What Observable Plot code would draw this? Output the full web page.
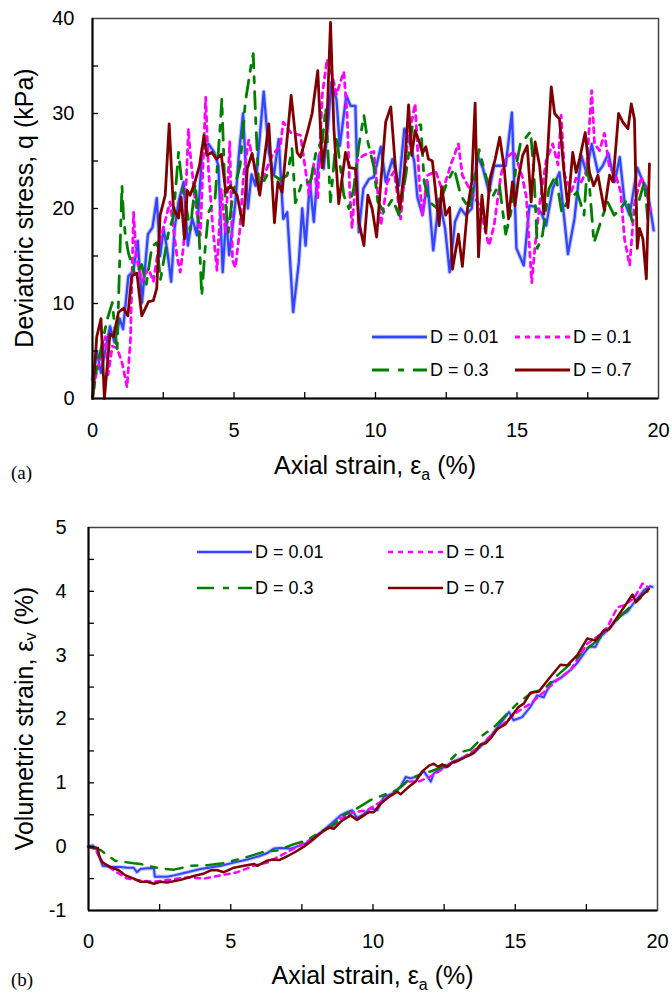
<!DOCTYPE html>
<html><head><meta charset="utf-8">
<script src="https://cdn.jsdelivr.net/npm/d3@7"></script>
<script src="https://cdn.jsdelivr.net/npm/@observablehq/plot@0.6"></script>
<style>
body{margin:0;background:#fff;}
#chart{width:672px;}
svg{display:block;}
</style></head><body><div id="chart"></div>
<script>
// ---------- series meta ----------
const seriesNames = ["D = 0.01", "D = 0.1", "D = 0.3", "D = 0.7"];
const seriesColors = ["#3344ff", "#ff00ff", "#008000", "#800000"];
const seriesDash = [null, "5,5", "17,9,6,9", null];

// ---------- axis ticks ----------
const xMajorTicks = [0, 5, 10, 15, 20];
const xMinorTicks = [2.5, 5, 7.5, 10, 12.5, 15, 17.5];
const qMajorTicks = [0, 10, 20, 30, 40];
const qMinorTicks = [5, 10, 15, 20, 25, 30, 35];
const vMajorTicks = [-1, 0, 1, 2, 3, 4, 5];
const vMinorTicks = [-0.5, 0, 0.5, 1, 1.5, 2, 2.5, 3, 3.5, 4, 4.5];

// ---------- panel (a): deviatoric stress q (kPa) vs axial strain (%) ----------
const qD001 = [[0,2],[0.15,5],[0.3,2.7],[0.45,5],[0.62,7.6],[0.78,5.9],[0.96,8.4],[1.08,7.3],[1.27,12.9],[1.44,13.4],[1.6,16.6],[1.75,10.1],[1.96,17.3],[2.12,18],[2.27,21.1],[2.39,15],[2.51,17.9],[2.63,15.8],[2.78,12.3],[2.9,17.9],[3.04,20.7],[3.22,22.8],[3.37,16.1],[3.52,19],[3.69,17.2],[3.88,26.3],[4.1,26.8],[4.3,25.9],[4.45,24.5],[4.6,13.3],[4.72,19],[4.83,15.1],[4.97,18.6],[5.05,20.7],[5.17,25.6],[5.32,30],[5.49,20],[5.62,23.6],[5.76,22.4],[6.05,32.3],[6.23,25.9],[6.41,23.5],[6.58,27.3],[6.74,18.9],[6.88,19.6],[7.09,9.1],[7.29,14.3],[7.41,20],[7.53,16.1],[7.68,22.8],[7.82,18.6],[8,25.6],[8.17,24.2],[8.32,28.7],[8.44,33.3],[8.62,31.5],[8.74,26.6],[8.97,31.9],[9.12,30.8],[9.29,30.8],[9.41,17.5],[9.57,22.1],[9.77,23.1],[9.94,23.3],[10.19,26.5],[10.36,22.8],[10.6,25.2],[10.83,22.4],[11.02,28.4],[11.19,27.4],[11.37,24.9],[11.48,21.2],[11.66,19.3],[11.84,22.8],[12.04,15.6],[12.25,21],[12.46,17.9],[12.62,13.3],[12.81,18.6],[13.01,20],[13.19,19.3],[13.4,20],[13.6,25.6],[13.8,24.2],[14.01,21.7],[14.19,24.5],[14.43,24.5],[14.6,24.5],[14.82,30.1],[14.98,15.8],[15.24,14],[15.44,20.3],[15.62,20.2],[15.85,19.6],[16.03,18.2],[16.26,22.1],[16.5,23.8],[16.8,15.2],[17.03,18.9],[17.27,25.6],[17.45,23.8],[17.64,26.8],[17.86,23.8],[18.03,24.5],[18.23,25.8],[18.45,22.8],[18.63,25.4],[18.8,20.7],[18.98,19.3],[19.25,24.3],[19.45,22.8],[19.6,22.1],[19.83,17.7]];
const qD01 = [[0,0],[0.1,2.2],[0.3,4.5],[0.46,6.5],[0.55,2.5],[0.7,5.5],[0.87,5.3],[1.05,3.7],[1.22,1.2],[1.34,6.1],[1.45,19.6],[1.55,15],[1.74,12.3],[1.98,13.7],[2.15,12.3],[2.33,15.8],[2.5,17.9],[2.74,20.7],[2.98,15.1],[3.1,13.3],[3.22,16.1],[3.39,28.4],[3.45,25.9],[3.63,20.7],[3.81,17.2],[4.0,31.7],[4.1,24],[4.25,18],[4.4,13.5],[4.55,22],[4.7,17.4],[4.85,27],[4.95,14.5],[5.05,13.8],[5.2,17.6],[5.34,23.6],[5.52,27.2],[5.82,23],[6.05,23.4],[6.35,25.6],[6.64,26.6],[6.74,29.1],[7.0,28],[7.35,27.7],[7.65,21.5],[7.82,24.7],[7.96,21.1],[8.12,32],[8.29,35.7],[8.47,34],[8.62,32],[8.88,34.4],[9.0,29.8],[9.09,21.8],[9.17,17.9],[9.35,25],[9.57,25.6],[9.94,26],[10.19,18.2],[10.42,22.8],[10.66,23.9],[10.89,18.9],[11.13,26.9],[11.4,31],[11.55,22.8],[11.66,19.3],[11.84,23.5],[12.13,23.9],[12.37,21.8],[12.66,24.6],[12.93,26.8],[13.07,23.5],[13.37,21.8],[13.66,20.4],[14.01,16.1],[14.19,18.2],[14.43,23.5],[14.6,25.3],[14.9,26],[15.19,23.3],[15.33,21.2],[15.52,12.2],[15.64,16.1],[15.8,20.5],[16.03,25],[16.26,26.8],[16.45,24.6],[16.56,29.8],[16.68,23.5],[16.92,21.8],[17.09,23.2],[17.27,22.8],[17.45,23.9],[17.64,32.4],[17.74,26.8],[17.92,26.1],[18.09,27.9],[18.27,24.2],[18.45,23.9],[18.66,21.8],[18.8,16.8],[18.98,14],[19.15,20.5],[19.39,23.3],[19.55,21.9],[19.72,19.8]];
const qD03 = [[0,0],[0.15,3.2],[0.33,5.6],[0.5,8.1],[0.7,10.1],[0.87,5],[0.93,11.4],[1.04,22.4],[1.1,19],[1.16,17.2],[1.27,15.3],[1.5,13],[1.74,14.1],[1.9,12],[2.1,16],[2.27,16.4],[2.4,12.5],[2.5,14.2],[2.68,17.4],[2.86,19.2],[3.04,25.9],[3.16,22.6],[3.27,20.9],[3.45,17.7],[3.63,22.6],[3.75,18.4],[3.86,10.8],[3.98,15.8],[4.1,19.6],[4.33,21],[4.51,28.6],[4.57,31.5],[4.69,20.8],[4.8,17.5],[4.95,21.4],[5.22,24.6],[5.4,31.2],[5.6,35],[5.68,36.3],[5.76,29.8],[5.88,22],[6.17,23.5],[6.41,23.5],[6.64,23],[6.88,23.5],[7.05,26.3],[7.17,20.6],[7.41,22.8],[7.7,22.8],[7.92,26.3],[8.12,27],[8.24,30.6],[8.41,20.7],[8.62,27.7],[8.88,21.4],[9.06,20],[9.23,22.1],[9.41,26.6],[9.59,29.8],[9.73,27],[9.94,24.4],[10.08,20.7],[10.31,19.6],[10.6,21],[10.83,19.3],[11.07,23.5],[11.31,28.8],[11.6,28.8],[11.72,22.8],[11.9,20.7],[12.19,20],[12.54,22.8],[12.78,24.2],[13.01,21.4],[13.31,20],[13.66,26.2],[13.9,23.4],[14.13,21.2],[14.37,22.6],[14.6,17.3],[14.78,19.5],[14.97,24.5],[15.13,27],[15.3,27.4],[15.48,28.1],[15.6,23.6],[15.72,15.8],[15.9,17.2],[16.13,22.1],[16.37,23.5],[16.58,19.6],[16.84,21],[17.13,21.7],[17.37,19.3],[17.49,24.9],[17.72,16.4],[17.96,18.6],[18.2,20.7],[18.43,19.3],[18.66,20],[18.9,21],[19.07,18.6],[19.3,20.7],[19.5,22.8],[19.62,18.9]];
const qD07 = [[0,0],[0.15,6.5],[0.3,8.4],[0.42,0],[0.62,6.8],[0.74,6.5],[0.92,9.1],[1.1,9.5],[1.25,8.7],[1.39,12.9],[1.57,13.2],[1.74,8.7],[1.98,10.2],[2.15,10.3],[2.27,11.6],[2.39,19.3],[2.57,21.4],[2.71,28.9],[2.86,20],[3.04,19],[3.13,21.2],[3.25,16.8],[3.35,21.9],[3.45,21.4],[3.6,22.6],[3.78,24.5],[3.94,27.7],[4.04,25.6],[4.21,25.9],[4.39,25.2],[4.55,25.7],[4.71,21.7],[4.87,22.4],[5.11,21.4],[5.32,18.2],[5.47,24.2],[5.64,25.8],[5.91,21.4],[6.23,28.9],[6.43,18.5],[6.55,22.8],[6.7,21.7],[7.02,31.9],[7.23,25.9],[7.35,25.4],[7.59,28],[7.76,30],[7.96,34.5],[8.12,24.3],[8.27,27.9],[8.41,39.6],[8.53,28.4],[8.7,20.5],[8.94,25.9],[9.09,24.3],[9.29,24.2],[9.41,18.6],[9.59,16.1],[9.73,21.4],[9.88,20],[10.04,17],[10.19,22.8],[10.36,29.1],[10.54,30.7],[10.7,24.5],[10.86,20],[11.02,24],[11.17,30.9],[11.28,25.6],[11.4,28.2],[11.55,27],[11.66,25.8],[11.78,26.5],[11.87,25.2],[12.01,25],[12.25,18.2],[12.34,22.3],[12.48,19.3],[12.62,20.1],[12.72,13.6],[12.93,17.3],[13.07,13.9],[13.25,20],[13.4,22.8],[13.52,31.1],[13.64,14.9],[13.76,21.4],[13.9,17.5],[14.04,23.1],[14.23,25.2],[14.39,27.5],[14.55,24.2],[14.7,18.9],[14.84,22.8],[14.93,20.3],[15.05,23.1],[15.2,25.6],[15.36,26.6],[15.5,20.7],[15.64,27],[15.8,24.5],[15.95,19.4],[16.09,26.3],[16.21,32.8],[16.33,30],[16.5,29.4],[16.65,24.2],[16.8,20.1],[16.97,25.9],[17.09,23.8],[17.21,25.2],[17.41,28],[17.56,23.8],[17.71,22.4],[17.86,23.5],[18.09,19.8],[18.27,23.5],[18.39,22.8],[18.59,30],[18.74,29.1],[18.92,28.4],[19.04,31],[19.15,29.4],[19.25,15.8],[19.33,17.9],[19.45,16.8],[19.57,12.6],[19.68,24.7]];

// ---------- panel (b): volumetric strain (%) vs axial strain (%) ----------
const vD001 = [[0,0],[0.15,0.02],[0.3,-0.05],[0.5,-0.3],[0.77,-0.32],[1.13,-0.32],[1.36,-0.33],[1.59,-0.33],[1.7,-0.4],[1.83,-0.35],[2.06,-0.34],[2.3,-0.34],[2.33,-0.47],[2.77,-0.47],[3.0,-0.45],[3.47,-0.4],[3.94,-0.35],[4.4,-0.32],[4.65,-0.3],[5.11,-0.25],[5.58,-0.2],[5.99,-0.15],[6.28,-0.1],[6.52,-0.03],[6.75,-0.02],[7.1,-0.03],[7.45,0.02],[7.81,0.08],[8.16,0.22],[8.51,0.35],[8.86,0.49],[9.09,0.54],[9.27,0.57],[9.44,0.45],[9.68,0.51],[9.91,0.6],[10.15,0.57],[10.38,0.78],[10.68,0.83],[10.97,0.94],[11.15,1.09],[11.32,1.07],[11.56,1.1],[11.79,1.18],[12.03,1.02],[12.14,1.15],[12.32,1.2],[12.55,1.26],[12.85,1.34],[13.14,1.39],[13.43,1.44],[13.67,1.52],[13.9,1.62],[14.14,1.72],[14.25,1.8],[14.48,1.93],[14.78,2.11],[14.94,1.98],[15.24,2.03],[15.53,2.19],[15.77,2.37],[16.0,2.34],[16.24,2.56],[16.59,2.64],[16.95,2.77],[17.18,2.88],[17.42,3.03],[17.59,3.13],[17.82,3.13],[18.0,3.29],[18.35,3.44],[18.65,3.6],[18.94,3.68],[19.12,3.79],[19.29,3.89],[19.53,4.02],[19.74,4.08],[19.82,4.07]];
const vD01 = [[0,0],[0.25,-0.05],[0.5,-0.25],[0.99,-0.4],[1.36,-0.5],[1.83,-0.53],[2.3,-0.55],[3.0,-0.51],[3.47,-0.48],[4.06,-0.5],[4.65,-0.45],[5.23,-0.4],[5.81,-0.3],[6.28,-0.25],[6.75,-0.14],[7.22,-0.03],[7.69,0.08],[8.16,0.22],[8.63,0.34],[8.86,0.44],[9.32,0.54],[9.8,0.57],[10.26,0.7],[10.73,0.83],[11.2,1.02],[11.61,1.02],[12.03,1.1],[12.5,1.23],[12.97,1.34],[13.43,1.47],[13.9,1.63],[14.13,1.74],[14.6,1.93],[15.07,2.11],[15.53,2.24],[16.0,2.42],[16.47,2.61],[16.95,2.77],[17.53,3.18],[17.89,3.29],[18.24,3.44],[18.59,3.75],[18.82,3.78],[19.17,3.89],[19.47,4.12],[19.65,4.07]];
const vD03 = [[0,0],[0.41,-0.05],[0.94,-0.22],[1.59,-0.26],[1.83,-0.27],[2.06,-0.3],[2.53,-0.34],[3.0,-0.36],[3.59,-0.3],[4.18,-0.29],[4.71,-0.26],[5.35,-0.19],[6.17,-0.08],[6.64,-0.06],[7.22,0.04],[7.69,0.1],[8.16,0.24],[8.5,0.3],[8.97,0.49],[9.44,0.6],[9.91,0.73],[10.38,0.81],[10.85,0.89],[11.32,1.07],[11.79,1.15],[12.03,1.18],[12.5,1.26],[12.97,1.47],[13.43,1.52],[13.67,1.63],[13.84,1.74],[14.25,1.87],[14.6,2.03],[15.07,2.24],[15.6,2.42],[16.0,2.46],[16.47,2.68],[17.06,2.91],[17.42,3.07],[17.89,3.23],[18.24,3.39],[18.71,3.62],[19.12,3.79],[19.47,3.92],[19.65,4.0]];
const vD07 = [[0,0],[0.33,-0.02],[0.36,-0.13],[0.47,-0.24],[0.77,-0.32],[1.06,-0.37],[1.3,-0.45],[1.59,-0.5],[1.83,-0.55],[2.06,-0.55],[2.3,-0.58],[2.53,-0.55],[2.77,-0.56],[3.24,-0.52],[3.7,-0.46],[4.06,-0.42],[4.3,-0.37],[4.53,-0.37],[4.76,-0.4],[5.11,-0.33],[5.46,-0.3],[5.81,-0.27],[5.93,-0.3],[6.28,-0.22],[6.46,-0.2],[6.7,-0.21],[6.99,-0.15],[7.28,-0.08],[7.57,0],[7.86,0.1],[8.15,0.21],[8.45,0.3],[8.62,0.28],[8.86,0.39],[9.03,0.44],[9.21,0.49],[9.44,0.42],[9.68,0.49],[9.85,0.54],[10.03,0.54],[10.26,0.67],[10.56,0.78],[10.85,0.86],[10.97,0.82],[11.26,0.94],[11.5,1.02],[11.73,1.18],[11.97,1.27],[12.14,1.3],[12.28,1.25],[12.44,1.29],[12.61,1.25],[12.79,1.32],[13.02,1.35],[13.31,1.42],[13.55,1.47],[13.78,1.6],[13.96,1.62],[14.14,1.7],[14.36,1.84],[14.66,1.92],[14.89,2.06],[15.12,2.19],[15.3,2.24],[15.53,2.41],[15.83,2.43],[16.18,2.63],[16.59,2.85],[16.83,2.84],[17.18,3.0],[17.53,3.26],[17.82,3.23],[18.12,3.39],[18.29,3.4],[18.59,3.6],[18.82,3.75],[19.12,3.95],[19.24,3.83],[19.47,3.94],[19.7,4.04]];

const FONT = "'Liberation Sans', Arial, sans-serif";

function seriesMarks(list, w) {
  const marks = [];
  list.forEach((data, i) => {
    if (i === 0) {
      marks.push(Plot.line(data, {x: d => d[0], y: d => d[1], stroke: "#aab2ff", strokeWidth: w + 1.6, strokeOpacity: 0.7}));
    }
    marks.push(Plot.line(data, {
      x: d => d[0], y: d => d[1],
      stroke: seriesColors[i],
      strokeWidth: i === 0 ? w - 0.5 : w,
      strokeDasharray: seriesDash[i] || undefined,
      strokeLinejoin: "round"
    }));
  });
  return marks;
}

function makePanel(cfg) {
  const plotW = cfg.width - cfg.marginLeft - cfg.marginRight;
  const plotH = cfg.height - cfg.marginTop - cfg.marginBottom;
  const svg = Plot.plot({
    width: cfg.width, height: cfg.height,
    marginLeft: cfg.marginLeft, marginRight: cfg.marginRight,
    marginTop: cfg.marginTop, marginBottom: cfg.marginBottom,
    style: {fontFamily: FONT, fontSize: "20px", color: "#000", background: "#fff", overflow: "visible"},
    x: {domain: [0, 20]},
    y: {domain: cfg.yDomain},
    marks: [
      ...seriesMarks(cfg.series, cfg.lineWidth),
      Plot.frame({stroke: "#444", strokeWidth: 1.5}),
      Plot.ruleX([0], {stroke: "#000", strokeWidth: 2}),
      Plot.ruleY([cfg.yDomain[0]], {stroke: "#000", strokeWidth: 2}),
      Plot.tickX(xMinorTicks, {x: d => d, stroke: "#000", strokeWidth: 1.3, insetTop: plotH - 6}),
      Plot.tickY(cfg.yMinor, {y: d => d, stroke: "#000", strokeWidth: 1.3, insetRight: plotW - 6}),
      Plot.axisX({ticks: xMajorTicks, tickSize: 0, tickPadding: cfg.xPad, label: null, fontSize: 20, tickFormat: d => String(d)}),
      Plot.axisY({ticks: cfg.yMajor, tickSize: 0, tickPadding: cfg.yPad, label: null, fontSize: 20, tickFormat: d => String(d)})
    ]
  });
  const s = d3.select(svg);
  // x axis title
  const xt = s.append("text").attr("x", cfg.marginLeft + plotW / 2).attr("y", cfg.xTitleY)
    .attr("text-anchor", "middle").style("font-family", FONT).style("font-size", "25px").attr("fill", "#000");
  xt.append("tspan").text("Axial strain, ε");
  xt.append("tspan").text("a").style("font-size", "16px").attr("dy", 6);
  xt.append("tspan").text(" (%)").attr("dy", -6);
  // y axis title
  const yt = s.append("text").attr("transform", `translate(${cfg.yTitleX},${cfg.marginTop + plotH / 2}) rotate(-90)`)
    .attr("text-anchor", "middle").style("font-family", FONT).style("font-size", "25px").attr("fill", "#000");
  cfg.yTitle.forEach(p => {
    const t = yt.append("tspan").text(p.t);
    if (p.sub) t.style("font-size", "16px").attr("dy", 3);
    if (p.back) t.attr("dy", -3);
  });
  // panel letter
  s.append("text").attr("x", 11).attr("y", cfg.letterY).attr("text-anchor", "start")
    .style("font-family", "'Liberation Serif', 'Times New Roman', serif")
    .style("font-size", "19px").attr("fill", "#000").text(cfg.letter);
  // legend
  const L = cfg.legend;
  seriesNames.forEach((name, i) => {
    const col = i % 2, row = Math.floor(i / 2);
    const x1 = L.cols[col], x2 = x1 + L.len, y = L.rows[row];
    if (i === 0) {
      s.append("line").attr("x1", x1).attr("x2", x2).attr("y1", y).attr("y2", y)
        .attr("stroke", "#aab2ff").attr("stroke-width", cfg.lineWidth + 1.6).attr("stroke-opacity", 0.7);
    }
    s.append("line").attr("x1", x1).attr("x2", x2).attr("y1", y).attr("y2", y)
      .attr("stroke", seriesColors[i]).attr("stroke-width", i === 0 ? cfg.lineWidth - 0.5 : cfg.lineWidth)
      .attr("stroke-dasharray", seriesDash[i]);
    s.append("text").attr("x", x2 + 3).attr("y", y).attr("dy", "0.36em").attr("text-anchor", "start")
      .style("font-family", FONT).style("font-size", "18px").attr("fill", "#000").text(name);
  });
  return svg;
}

const chart = document.getElementById("chart");
chart.appendChild(makePanel({
  width: 672, height: 490, marginLeft: 92, marginRight: 14, marginTop: 18, marginBottom: 92,
  yDomain: [0, 40], yMajor: qMajorTicks, yMinor: qMinorTicks,
  series: [qD001, qD01, qD03, qD07], lineWidth: 2.8,
  xPad: 24, yPad: 18, xTitleY: 474, yTitleX: 33, letterY: 479, letter: "(a)",
  yTitle: [{t: "Deviatoric stress, q (kPa)"}],
  legend: {cols: [372, 515], len: 55, rows: [337, 370]}
}));
chart.appendChild(makePanel({
  width: 672, height: 504, marginLeft: 88, marginRight: 15, marginTop: 37, marginBottom: 84,
  yDomain: [-1, 5], yMajor: vMajorTicks, yMinor: vMinorTicks,
  series: [vD001, vD01, vD03, vD07], lineWidth: 2.5,
  xPad: 23, yPad: 22, xTitleY: 494, yTitleX: 33, letterY: 496, letter: "(b)",
  yTitle: [{t: "Volumetric strain, ε"}, {t: "v", sub: true}, {t: " (%)", back: true}],
  legend: {cols: [197, 388], len: 55, rows: [62, 98]}
}));
</script></body></html>
